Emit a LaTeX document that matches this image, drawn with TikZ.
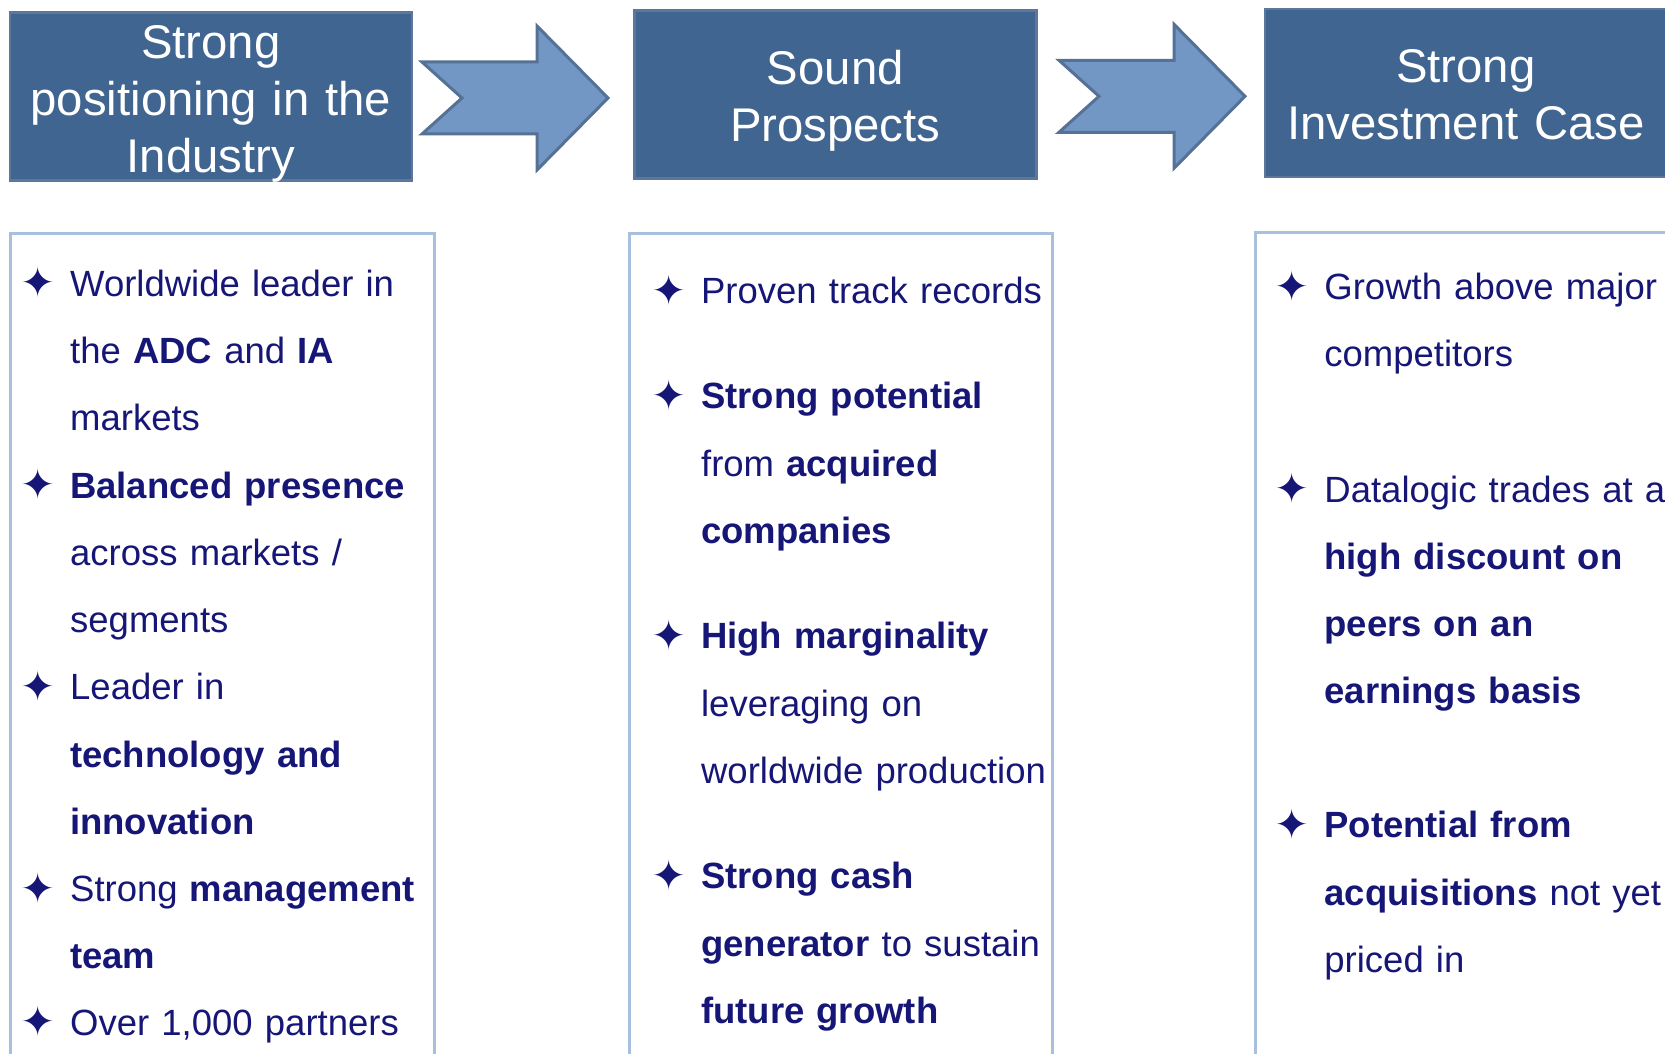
\documentclass[tikz,border=0pt]{standalone}
\usepackage{fontspec}
\setmainfont{Liberation Sans}
\newfontfamily\symfont{DejaVu Sans}
\usepackage{tikz}

\definecolor{hdblue}{HTML}{416591}
\definecolor{hdedge}{HTML}{5B789C}
\definecolor{arrfill}{HTML}{7297C4}
\definecolor{arredge}{HTML}{557296}
\definecolor{panedge}{HTML}{A8C0DE}
\definecolor{navy}{HTML}{161677}

\begin{document}
\begin{tikzpicture}[x=1pt,y=-1pt,
  hdbox/.style={draw=hdedge,fill=hdblue,line width=2.5pt,minimum width=402pt,minimum height=168pt,inner sep=0pt},
  hdtext/.style={text=white,text width=402pt,align=center,inner sep=0pt,anchor=base,font=\fontsize{47.3}{56.8}\selectfont},
  flow/.style={draw=arredge,fill=arrfill,line width=3pt,line join=miter},
  panel/.style={draw=panedge,line width=3pt},
  item/.style={text=navy,text width=400pt,align=left,inner sep=0pt,anchor=base west,font=\fontsize{36.5}{67.2}\selectfont},
  spark/.style={text=navy,inner sep=0pt,font=\symfont\fontsize{42}{42}\selectfont}]

\useasboundingbox (0,0) rectangle (1665,1054);

% headers
\node[hdbox] (hd1) at (210.8,96.6) {};
\node[hdbox] (hd2) at (835.3,94.5) {};
\node[hdbox] (hd3) at (1465.9,92.9) {};
\node[hdtext] (hd1t) at (210.8,59) {Strong\\positioning in the\\Industry};
\node[hdtext] (hd2t) at (835.3,85) {Sound\\Prospects};
\node[hdtext] (hd3t) at (1465.9,83) {Strong\\Investment Case};

% block arrows
\draw[flow,shift={(422,98)}] (0,-36) -- (40,0) -- (0,36) -- (115,36) -- (115,72) -- (186,0) -- (115,-72) -- (115,-36) -- cycle;
\draw[flow,shift={(1059,96.3)}] (0,-36) -- (40,0) -- (0,36) -- (115,36) -- (115,72) -- (186,0) -- (115,-72) -- (115,-36) -- cycle;

% panels
\draw[panel] (10.6,1060) |- (434.3,233.6) -- (434.3,1060);
\draw[panel] (629.7,1060) |- (1052.3,233.6) -- (1052.3,1060);
\draw[panel] (1255,1060) |- (1670,232.6);

% first column
\node[item] (i1) at (70,296.3) {Worldwide leader in\\the \textbf{ADC} and \textbf{IA}\\markets};
\node[item] (i2) at (70,498) {\textbf{Balanced presence}\\across markets /\\segments};
\node[item] (i3) at (70,699.8) {Leader in\\\textbf{technology and}\\\textbf{innovation}};
\node[item] (i4) at (70,901.5) {Strong \textbf{management}\\\textbf{team}};
\node[item] (i5) at (70,1035.3) {Over 1,000 partners};

% second column
\node[item] (j1) at (700.9,303.7) {Proven track records};
\node[item] (j2) at (700.9,408.8) {\textbf{Strong potential}\\from \textbf{acquired}\\\textbf{companies}};
\node[item] (j3) at (700.9,648.8) {\textbf{High marginality}\\leveraging on\\worldwide production};
\node[item] (j4) at (700.9,888.8) {\textbf{Strong cash}\\\textbf{generator} to sustain\\\textbf{future growth}};

% third column
\node[item] (k1) at (1324.2,299.5) {Growth above major\\competitors};
\node[item] (k2) at (1324.2,502.3) {Datalogic trades at a\\\textbf{high discount on}\\\textbf{peers on an}\\\textbf{earnings basis}};
\node[item] (k3) at (1324.2,837.9) {\textbf{Potential from}\\\textbf{acquisitions} not yet\\priced in};

% bullets
\foreach \t in {i1,i2,i3,i4,i5,j1,j2,j3,j4,k1,k2,k3}
  \node[spark] (s\t) at ([xshift=-32pt,yshift=13.8pt]\t.base west) {✦};

\end{tikzpicture}
\end{document}
